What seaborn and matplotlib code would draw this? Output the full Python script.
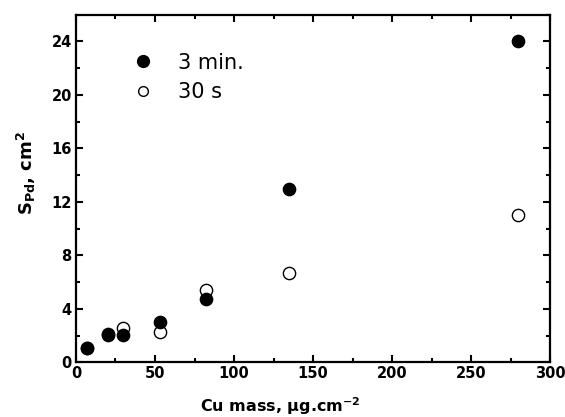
import matplotlib
matplotlib.use("Agg")
import matplotlib.pyplot as plt
import seaborn as sns
import pandas as pd
from matplotlib.ticker import MultipleLocator
from matplotlib.lines import Line2D

cu_mass = [7, 20, 30, 53, 82, 135, 280]
s_3min = [1.05, 2.05, 2.05, 3.0, 4.7, 13.0, 24.0]
s_30s = [1.05, 2.15, 2.55, 2.25, 5.4, 6.7, 11.0]
series_names = ["3 min.", "30 s"]

sns.set_style("ticks")
plt.rcParams['font.family'] = ['DejaVu Sans']
plt.rcParams['mathtext.fontset'] = 'dejavusans'
plt.rcParams['mathtext.default'] = 'bf'
for k in ['text.color', 'axes.labelcolor', 'xtick.color', 'ytick.color', 'axes.edgecolor']:
    plt.rcParams[k] = 'black'

df = pd.DataFrame({
    "x": cu_mass * 2,
    "y": s_30s + s_3min,
    "series": [series_names[1]] * len(cu_mass) + [series_names[0]] * len(cu_mass),
})

fig = plt.figure(figsize=(5.65, 4.17), dpi=100)
ax = fig.add_axes([0.1345, 0.1312, 0.839, 0.8335])

sns.scatterplot(data=df[df.series == series_names[1]], x="x", y="y", ax=ax,
                marker="o", s=78, facecolor="white", edgecolor="black",
                linewidth=1.0, legend=False, zorder=3)
sns.scatterplot(data=df[df.series == series_names[0]], x="x", y="y", ax=ax,
                marker="o", s=78, color="black", edgecolor="black",
                linewidth=1.0, legend=False, zorder=4)

ax.set_xlim(0, 300)
ax.set_ylim(0, 26)
ax.xaxis.set_major_locator(MultipleLocator(50))
ax.xaxis.set_minor_locator(MultipleLocator(25))
ax.yaxis.set_major_locator(MultipleLocator(4))
ax.yaxis.set_minor_locator(MultipleLocator(2))
ax.tick_params(which="both", direction="in", top=True, right=True, width=1.5)
ax.tick_params(which="major", length=5, labelsize=10.5, pad=3)
ax.tick_params(which="minor", length=3)
for lab in ax.get_xticklabels() + ax.get_yticklabels():
    lab.set_fontweight("bold")
for sp in ax.spines.values():
    sp.set_linewidth(1.6)
    sp.set_visible(True)

ax.set_xlabel(r"Cu mass, $\mathbf{\mu}$g.cm$^{\mathbf{-2}}$", fontsize=11.5, fontweight="bold")
ax.set_ylabel(r"S$_{\mathbf{Pd}}$, cm$^{\mathbf{2}}$", fontsize=13, fontweight="bold")
ax.xaxis.set_label_coords(0.43, -0.094)
ax.yaxis.set_label_coords(-0.081, 0.545)

handles = [
    Line2D([], [], marker="o", linestyle="", markerfacecolor="black", markeredgecolor="black", markersize=8.5),
    Line2D([], [], marker="o", linestyle="", markerfacecolor="white", markeredgecolor="black", markersize=7),
]
ax.legend(handles, series_names, loc="upper left", bbox_to_anchor=(0.057, 0.945),
          frameon=False, fontsize=15, handletextpad=0.7, labelspacing=0.45)

fig.savefig("out.png", dpi=100)
